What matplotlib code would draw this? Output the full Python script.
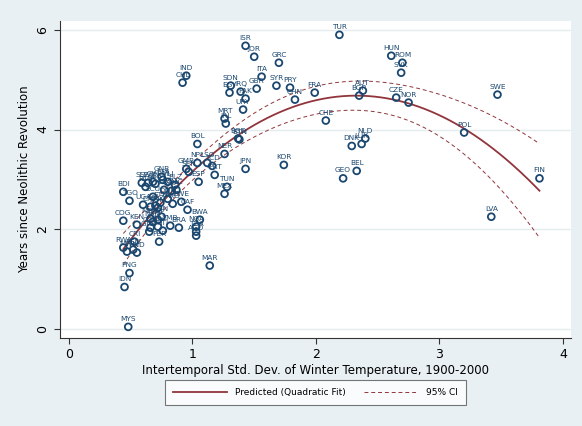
import numpy as np
import matplotlib
matplotlib.use("Agg")
from matplotlib import pyplot as plt
from matplotlib.lines import Line2D

# country codes, temperature volatility (x) and years since Neolithic (y, thousands)
codes = ["TUR", "HUN", "ROM", "SVK", "AUT", "BGR", "CZE", "NOR", "SWE", "FRA",
         "CHE", "POL", "NLD", "LUX", "DNK", "BEL", "GEO", "FIN", "LVA",
         "ISR", "JOR", "GRC", "ITA", "SYR", "PRY", "CHN", "SDN", "EGY", "IRQ",
         "GBR", "PAK", "URY", "MRT", "IRL", "BOL", "BGD", "BTN", "NER", "JPN",
         "KOR", "IND", "CHL",
         "SLE", "SWZ", "GIN", "LBR", "GNB", "BFA", "MLI", "BLZ", "ECU", "CIV",
         "GHA", "GMB", "SEN", "NPL", "LSO", "TCD", "PRT", "TUN", "MEX", "ESP",
         "UGA", "CMR", "MOZ", "ETH", "SOM", "ARG", "ZWE", "CAF", "BWA", "NGA",
         "TZA", "AGO", "COG", "KEN", "MDG", "NAM", "ZAF", "VEN", "COL", "SLV",
         "HTI", "ZMB", "BRA", "PER", "GTM", "RWA", "MWI", "BEN", "HND", "CRI",
         "PNG", "IDN", "MYS", "MAR", "BDI", "TGO", "NIC", "PAN", "DOM"]
x = [2.19, 2.61, 2.70, 2.69, 2.38, 2.35, 2.65, 2.75, 3.47, 1.99,
     2.08, 3.20, 2.40, 2.37, 2.29, 2.33, 2.22, 3.81, 3.42,
     1.43, 1.50, 1.70, 1.56, 1.68, 1.79, 1.83, 1.31, 1.30, 1.39,
     1.52, 1.43, 1.41, 1.26, 1.27, 1.04, 1.37, 1.38, 1.26, 1.43,
     1.74, 0.95, 0.92,
     0.59, 0.64, 0.68, 0.70, 0.75, 0.76, 0.80, 0.86, 0.68, 0.77,
     0.83, 0.95, 0.97, 1.04, 1.12, 1.16, 1.18, 1.28, 1.26, 1.05,
     0.60, 0.66, 0.70, 0.74, 0.72, 0.84, 0.91, 0.96, 1.06, 1.03,
     1.03, 1.03, 0.44, 0.55, 0.66, 0.68, 0.72, 0.75, 0.66, 0.72,
     0.76, 0.82, 0.89, 0.73, 0.65, 0.44, 0.47, 0.52, 0.55, 0.53,
     0.49, 0.45, 0.48, 1.14, 0.44, 0.49, 0.87, 0.62, 0.80]
y = [5.90, 5.48, 5.34, 5.14, 4.78, 4.68, 4.64, 4.54, 4.70, 4.74,
     4.18, 3.94, 3.82, 3.71, 3.67, 3.17, 3.02, 3.02, 2.25,
     5.68, 5.46, 5.34, 5.06, 4.88, 4.84, 4.60, 4.88, 4.74, 4.76,
     4.82, 4.62, 4.40, 4.22, 4.12, 3.71, 3.82, 3.80, 3.51, 3.21,
     3.29, 5.08, 4.94,
     2.93, 2.93, 2.95, 2.91, 3.05, 2.99, 2.95, 2.89, 2.65, 2.79,
     2.77, 3.21, 3.15, 3.33, 3.33, 3.27, 3.09, 2.85, 2.71, 2.95,
     2.49, 2.45, 2.47, 2.53, 2.43, 2.51, 2.55, 2.39, 2.19, 2.05,
     1.95, 1.87, 2.17, 2.09, 2.21, 2.15, 2.19, 2.25, 2.03, 2.05,
     1.97, 2.07, 2.03, 1.75, 1.95, 1.63, 1.55, 1.59, 1.53, 1.75,
     1.12, 0.84, 0.04, 1.27, 2.75, 2.57, 2.79, 2.85, 2.61]

navy = "#1a476f"
maroon = "#90353b"
bg = "#e9f0f3"

xa = np.array(x)
ya = np.array(y)

# quadratic fit with 95% CI of the prediction
X = np.column_stack([np.ones_like(xa), xa, xa ** 2])
beta, rss, _, _ = np.linalg.lstsq(X, ya, rcond=None)
n = len(xa)
s2 = np.sum((ya - X @ beta) ** 2) / (n - 3)
cov = s2 * np.linalg.inv(X.T @ X)
grid = np.linspace(xa.min(), xa.max(), 200)
G = np.column_stack([np.ones_like(grid), grid, grid ** 2])
pred = G @ beta
se = np.sqrt(np.einsum("ij,jk,ik->i", G, cov, G))
lo = pred - 1.98 * se
hi = pred + 1.98 * se

fig = plt.figure(figsize=(5.82, 4.26), dpi=100, facecolor=bg)
ax = fig.add_axes([0.103, 0.207, 0.878, 0.744])
ax.set_facecolor("white")

for gy in [0, 2, 4, 6]:
    ax.axhline(gy, color="#e4ecef", lw=1.0, zorder=0)

ax.scatter(xa, ya, s=24, facecolors="none", edgecolors=navy, linewidths=1.3, zorder=3)
for c, xi, yi in zip(codes, x, y):
    ax.annotate(c, (xi, yi), xytext=(0, 3.5), textcoords="offset points",
                ha="center", va="bottom", fontsize=5.3, color=navy, zorder=4)

ax.plot(grid, pred, color=maroon, lw=1.3, zorder=2)
ax.plot(grid, lo, color=maroon, lw=0.7, ls=(0, (4, 3)), zorder=2)
ax.plot(grid, hi, color=maroon, lw=0.7, ls=(0, (4, 3)), zorder=2)

ax.set_xlim(-0.073, 4.065)
ax.set_ylim(-0.18, 6.18)
ax.set_xticks([0, 1, 2, 3, 4])
ax.set_yticks([0, 2, 4, 6])
ax.tick_params(direction="out", length=4, width=0.8, color="#333333", labelsize=9)
plt.setp(ax.get_yticklabels(), rotation=90, va="center")
for side in ["top", "right"]:
    ax.spines[side].set_visible(False)
for side in ["left", "bottom"]:
    ax.spines[side].set_color("#333333")
    ax.spines[side].set_linewidth(0.8)

ax.set_xlabel("Intertemporal Std. Dev. of Winter Temperature, 1900-2000", fontsize=8.5, labelpad=2)
ax.set_ylabel("Years since Neolithic Revolution", fontsize=8.5, labelpad=4)

handles = [Line2D([], [], color=maroon, lw=1.3),
           Line2D([], [], color=maroon, lw=0.7, ls=(0, (4, 3)))]
leg = fig.legend(handles, ["Predicted (Quadratic Fit)", "95% CI"], loc="center",
                 bbox_to_anchor=(0.542, 0.078), ncol=2, fontsize=6.5, frameon=True,
                 fancybox=False, edgecolor="#555555", handlelength=6, columnspacing=2.0,
                 borderpad=0.9, handletextpad=0.9, borderaxespad=0)
leg.get_frame().set_linewidth(0.8)

fig.savefig("out.png", dpi=100, facecolor=bg)
